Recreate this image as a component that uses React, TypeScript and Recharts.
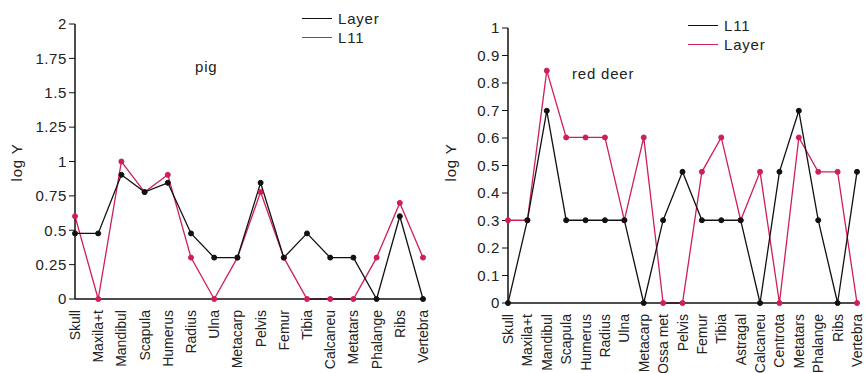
import React from 'react';
import { LineChart, Line, XAxis, YAxis } from 'recharts';

const pigBones = ['Skull', 'Maxila+t', 'Mandibul', 'Scapula', 'Humerus', 'Radius', 'Ulna', 'Metacarp', 'Pelvis', 'Femur', 'Tibia', 'Calcaneu', 'Metatars', 'Phalange', 'Ribs', 'Vertebra'];
const pigLayer = [0.477, 0.477, 0.903, 0.778, 0.845, 0.477, 0.301, 0.301, 0.845, 0.301, 0.477, 0.301, 0.301, 0, 0.602, 0];
const pigL11 = [0.602, 0, 1, 0.778, 0.903, 0.301, 0, 0.301, 0.778, 0.301, 0, 0, 0, 0.301, 0.699, 0.301];
const pigTicks = [0, 0.25, 0.5, 0.75, 1, 1.25, 1.5, 1.75, 2];

const deerBones = ['Skull', 'Maxila+t', 'Mandibul', 'Scapula', 'Humerus', 'Radius', 'Ulna', 'Metacarp', 'Ossa met', 'Pelvis', 'Femur', 'Tibia', 'Astragal', 'Calcaneu', 'Centrota', 'Metatars', 'Phalange', 'Ribs', 'Vertebra'];
const deerL11 = [0, 0.301, 0.699, 0.301, 0.301, 0.301, 0.301, 0, 0.301, 0.477, 0.301, 0.301, 0.301, 0, 0.477, 0.699, 0.301, 0, 0.477];
const deerLayer = [0.301, 0.301, 0.845, 0.602, 0.602, 0.602, 0.301, 0.602, 0, 0, 0.477, 0.602, 0.301, 0.477, 0, 0.602, 0.477, 0.477, 0];
const deerTicks = [0, 0.1, 0.2, 0.3, 0.4, 0.5, 0.6, 0.7, 0.8, 0.9, 1];

const RED = '#cf1f55';
const BLACK = '#111';
const FONT = '"Liberation Sans", Arial, sans-serif';

const pigData = pigBones.map((b, i) => ({ bone: b, Layer: pigLayer[i], L11: pigL11[i] }));
const deerData = deerBones.map((b, i) => ({ bone: b, L11: deerL11[i], Layer: deerLayer[i] }));

const BoneTick = (props: any) => {
  const { x, y, payload } = props;
  return (
    <text x={x} y={y + 3} transform={`rotate(-90, ${x}, ${y + 3})`} textAnchor="end" dominantBaseline="central"
      fontSize={14} fontFamily={FONT} fill="#222">
      {payload.value}
    </text>
  );
};

const LegendBox = ({ items, left, top }: { items: { name: string; color: string }[]; left: number; top: number }) => (
  <div style={{ position: 'absolute', left, top, fontFamily: FONT, fontSize: 15, color: '#222', letterSpacing: 0.8 }}>
    {items.map((it) => (
      <div key={it.name} style={{ display: 'flex', alignItems: 'center', height: 19 }}>
        <div style={{ width: 30, height: 0, borderTop: `1.5px solid ${it.color}`, marginRight: 6 }} />
        <span>{it.name}</span>
      </div>
    ))}
  </div>
);

const dot = (c: string) => ({ r: 2.5, fill: c, stroke: c, strokeWidth: 1 });

const textStyle: React.CSSProperties = { position: 'absolute', fontFamily: FONT, fontSize: 15, color: '#222', letterSpacing: 0.8, whiteSpace: 'nowrap' };

export default function App() {
  return (
    <div style={{ position: 'absolute', left: 0, top: 0, width: 867, height: 373, background: '#fff', overflow: 'hidden' }}>
      <div style={{ position: 'absolute', left: 0, top: 0 }}>
        <LineChart width={440} height={373} data={pigData} margin={{ top: 24, right: 17, left: 23, bottom: 0 }}>
          <XAxis dataKey="bone" scale="point" padding={{ left: 0, right: 0 }} interval={0} height={74}
            tick={<BoneTick />} tickLine={false} axisLine={{ stroke: BLACK, strokeWidth: 1.5 }} />
          <YAxis domain={[0, 2]} ticks={pigTicks} width={52} tickSize={6} interval={0}
            tick={{ fontSize: 15, fontFamily: FONT, fill: '#222', letterSpacing: 0.6 }}
            tickLine={{ stroke: BLACK }} axisLine={{ stroke: BLACK, strokeWidth: 1.5 }} />
          <Line dataKey="L11" stroke={RED} strokeWidth={1.3} dot={dot(RED)} isAnimationActive={false} />
          <Line dataKey="Layer" stroke={BLACK} strokeWidth={1.3} dot={dot(BLACK)} isAnimationActive={false} />
        </LineChart>
      </div>
      <div style={{ position: 'absolute', left: 430, top: 0 }}>
        <LineChart width={437} height={373} data={deerData} margin={{ top: 28, right: 10, left: 26, bottom: 0 }}>
          <XAxis dataKey="bone" scale="point" padding={{ left: 0, right: 0 }} interval={0} height={70}
            tick={<BoneTick />} tickLine={false} axisLine={{ stroke: BLACK, strokeWidth: 1.5 }} />
          <YAxis domain={[0, 1]} ticks={deerTicks} width={52} tickSize={6} interval={0}
            tick={{ fontSize: 15, fontFamily: FONT, fill: '#222', letterSpacing: 0.6 }}
            tickLine={{ stroke: BLACK }} axisLine={{ stroke: BLACK, strokeWidth: 1.5 }} />
          <Line dataKey="Layer" stroke={RED} strokeWidth={1.3} dot={dot(RED)} isAnimationActive={false} />
          <Line dataKey="L11" stroke={BLACK} strokeWidth={1.3} dot={dot(BLACK)} isAnimationActive={false} />
        </LineChart>
      </div>
      <LegendBox items={[{ name: 'Layer', color: BLACK }, { name: 'L11', color: RED }]} left={302} top={9} />
      <LegendBox items={[{ name: 'L11', color: BLACK }, { name: 'Layer', color: RED }]} left={688} top={16} />
      <div style={{ ...textStyle, left: 195, top: 58 }}>pig</div>
      <div style={{ ...textStyle, left: 572, top: 65 }}>red deer</div>
      <div style={{ ...textStyle, left: -2, top: 154, transform: 'rotate(-90deg)' }}>log Y</div>
      <div style={{ ...textStyle, left: 432, top: 154, transform: 'rotate(-90deg)' }}>log Y</div>
    </div>
  );
}
